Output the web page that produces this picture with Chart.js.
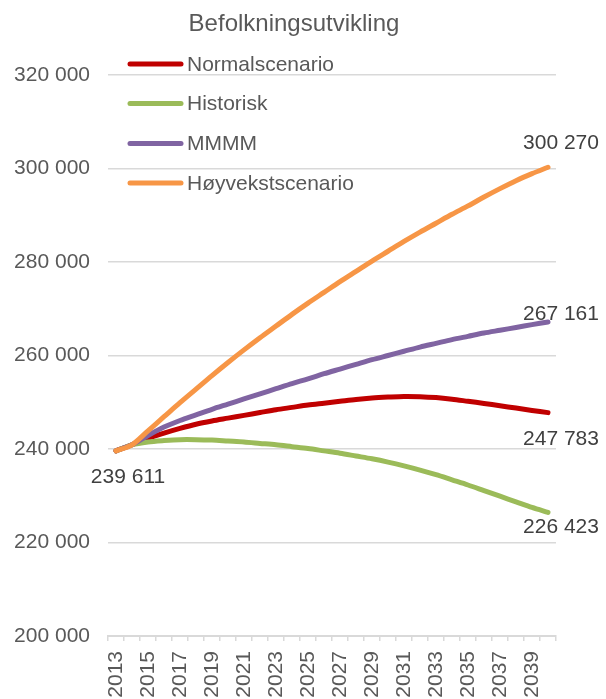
<!DOCTYPE html>
<html>
<head>
<meta charset="utf-8">
<script src="https://cdn.jsdelivr.net/npm/chart.js@4/dist/chart.umd.min.js"></script>
<style>
  html, body { margin: 0; padding: 0; background: #fff; }
  canvas { display: block; }
</style>
</head>
<body>
<canvas id="chart" width="606" height="699"></canvas>
<script>
const title = 'Befolkningsutvikling';
const years = ['2013','2014','2015','2016','2017','2018','2019','2020','2021','2022','2023','2024','2025','2026',
  '2027','2028','2029','2030','2031','2032','2033','2034','2035','2036','2037','2038','2039','2040'];

const seriesNames = ['Normalscenario', 'Historisk', 'MMMM', 'Høyvekstscenario'];
const seriesColors = ['#C00000', '#9BBB59', '#8064A2', '#F79646'];

const normal = [239611, 240900, 242300, 243400, 244400, 245300, 246000, 246600, 247200, 247800, 248400, 248900, 249400, 249800,
  250200, 250600, 250900, 251100, 251250, 251200, 251000, 250650, 250200, 249750, 249250, 248750, 248250, 247783];
const historisk = [239611, 240900, 241500, 241800, 242000, 242000, 241900, 241700, 241500, 241200, 240900, 240500, 240100, 239600,
  239100, 238500, 237900, 237200, 236400, 235500, 234500, 233400, 232300, 231100, 229900, 228700, 227500, 226423];
const mmmm = [239611, 240900, 242900, 244700, 246100, 247300, 248500, 249600, 250700, 251800, 252900, 254000, 255000, 256100,
  257100, 258100, 259100, 260000, 260900, 261800, 262600, 263400, 264100, 264800, 265400, 266000, 266600, 267161];
const hoyvekst = [239611, 240900, 243900, 246900, 249900, 252800, 255700, 258500, 261200, 263800, 266300, 268800, 271200, 273500,
  275800, 278000, 280200, 282300, 284400, 286400, 288300, 290200, 292000, 293900, 295700, 297400, 298900, 300270];

const yMin = 200000;
const yMax = 320000;
const yStep = 20000;

// labels shown on the lines: [series index, point index, dx, dy]
const pointLabels = [
  [3, 0, 12, 25],
  [3, 27, 13, -25],
  [2, 27, 13, -9],
  [0, 27, 13, 26],
  [1, 27, 13, 14]
];

const allSeries = [normal, historisk, mmmm, hoyvekst];

function fmt(v) {
  return String(Math.round(v)).replace(/\B(?=(\d{3})+(?!\d))/g, ' ');
}

const textFont = '21px "Liberation Sans", Arial, sans-serif';

const decorPlugin = {
  id: 'decor',
  afterDatasetsDraw(chart) {
    const ctx = chart.ctx;
    ctx.save();
    // title
    ctx.font = '24px "Liberation Sans", Arial, sans-serif';
    ctx.fillStyle = '#595959';
    ctx.textAlign = 'center';
    ctx.textBaseline = 'middle';
    ctx.fillText(title, 294, 24);

    // legend inside the plot
    const rowsY = [64, 103.5, 143.5, 183];
    ctx.font = textFont;
    ctx.textAlign = 'left';
    seriesNames.forEach((name, i) => {
      ctx.strokeStyle = seriesColors[i];
      ctx.lineWidth = 5;
      ctx.lineCap = 'round';
      ctx.beginPath();
      ctx.moveTo(130, rowsY[i]);
      ctx.lineTo(181, rowsY[i]);
      ctx.stroke();
      ctx.fillStyle = '#595959';
      ctx.fillText(name, 187, rowsY[i] + 1);
    });

    // value labels
    ctx.fillStyle = '#404040';
    ctx.textAlign = 'center';
    pointLabels.forEach(([s, p, dx, dy]) => {
      const pt = chart.getDatasetMeta(s).data[p];
      ctx.fillText(fmt(allSeries[s][p]), pt.x + dx, pt.y + dy + 1);
    });
    ctx.restore();
  }
};

new Chart(document.getElementById('chart'), {
  type: 'line',
  data: {
    labels: years,
    datasets: allSeries.map((d, i) => ({
      label: seriesNames[i],
      data: d,
      borderColor: seriesColors[i],
      backgroundColor: seriesColors[i],
      borderWidth: 5,
      borderCapStyle: 'round',
      borderJoinStyle: 'round',
      pointRadius: 0,
      tension: 0.3,
      order: 4 - i
    }))
  },
  options: {
    responsive: false,
    animation: false,
    devicePixelRatio: 1,
    layout: { padding: { top: 75, right: 50, left: 0, bottom: 0 } },
    plugins: {
      legend: { display: false },
      title: { display: false },
      tooltip: { enabled: false }
    },
    scales: {
      x: {
        offset: true,
        grid: {
          offset: true,
          drawOnChartArea: false,
          drawTicks: true,
          tickLength: 5,
          color: '#D9D9D9',
          lineWidth: 1.5
        },
        border: { display: true, color: '#D9D9D9', width: 2 },
        ticks: {
          autoSkip: false,
          maxRotation: 90,
          minRotation: 90,
          padding: 10,
          color: '#595959',
          font: { family: '"Liberation Sans", Arial, sans-serif', size: 21 },
          callback: (v, i) => (i % 2 === 0 ? years[i] : '')
        },
        afterFit: (scale) => { scale.height = 63; }
      },
      y: {
        min: yMin,
        max: yMax,
        grid: { color: '#D9D9D9', lineWidth: 1.5, drawTicks: false },
        border: { display: false },
        ticks: {
          stepSize: yStep,
          padding: 18,
          color: '#595959',
          font: { family: '"Liberation Sans", Arial, sans-serif', size: 21 },
          callback: (v) => fmt(v)
        },
        afterFit: (scale) => { scale.width = 108; }
      }
    }
  },
  plugins: [decorPlugin]
});
</script>
</body>
</html>
